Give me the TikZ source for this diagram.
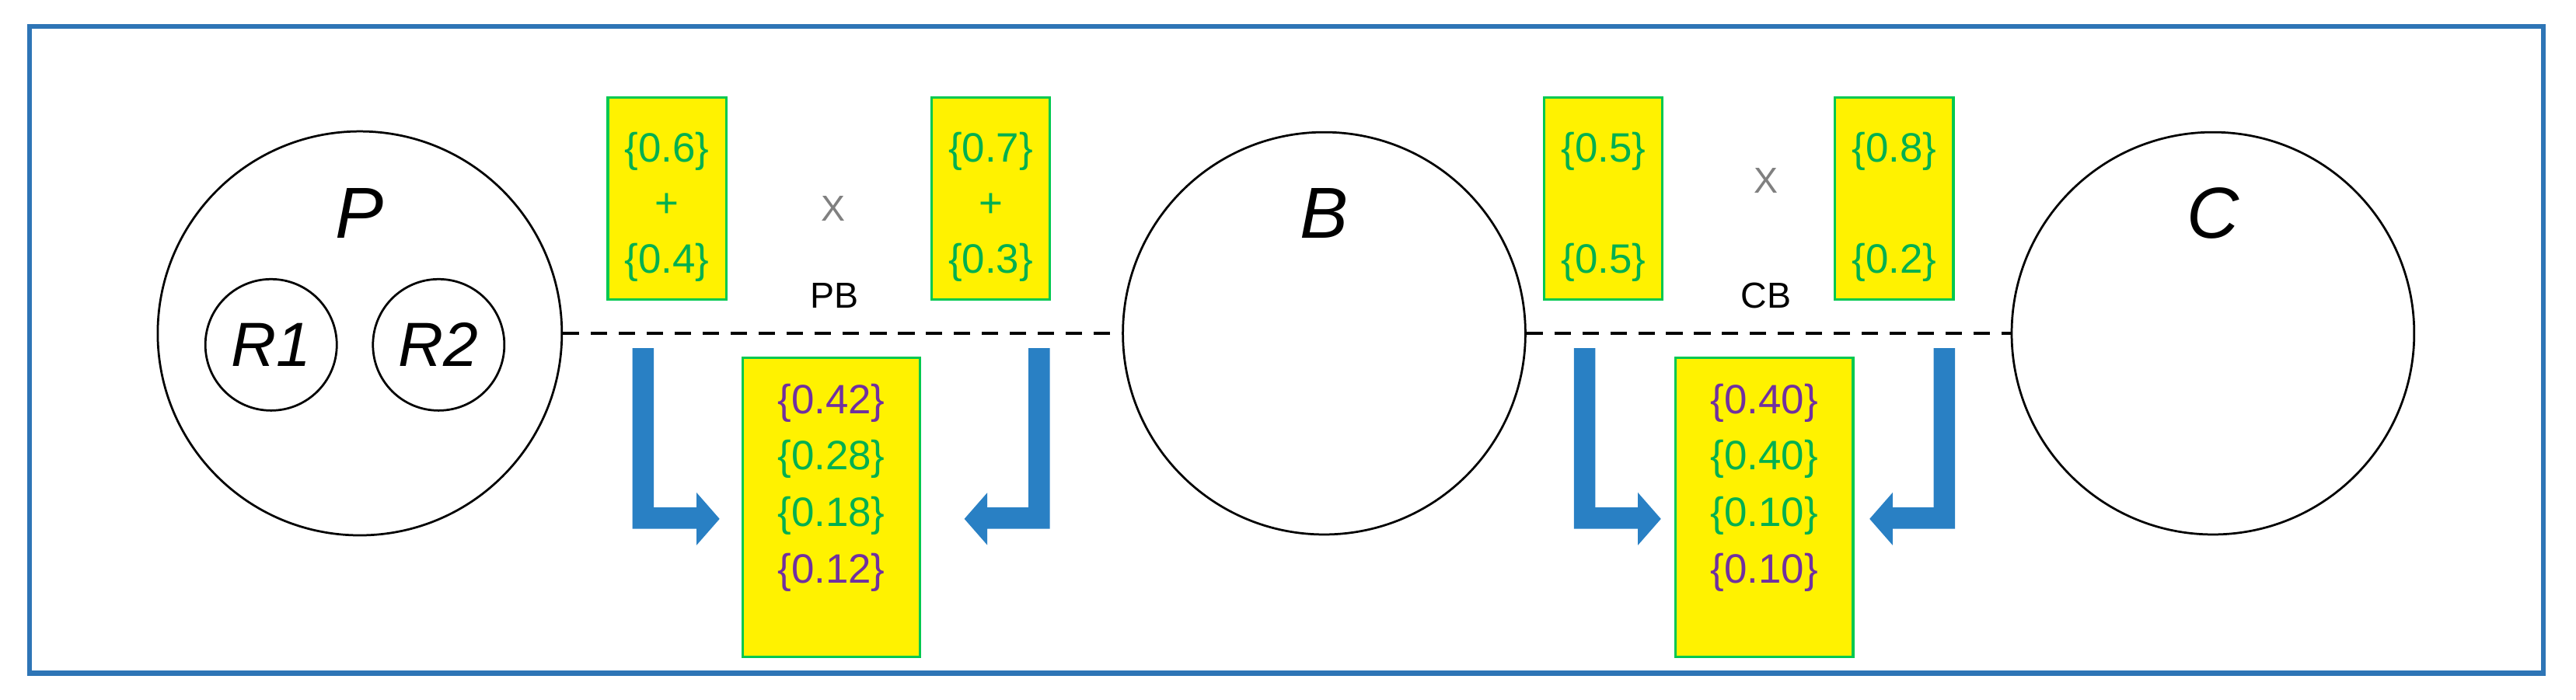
\documentclass[tikz,border=0pt]{standalone}
\usepackage{fontspec}
\setmainfont{Liberation Sans}
\begin{document}
\begin{tikzpicture}[x=1pt,y=-1pt,
  frame/.style={draw={rgb,255:red,46;green,117;blue,182},line width=3pt},
  ent/.style={draw,circle,line width=1.3pt,minimum size=#1,inner sep=0pt},
  pbox/.style={draw={rgb,255:red,0;green,200;blue,80},fill=yellow,line width=1.5pt,minimum width=72pt,minimum height=123pt,inner sep=0pt},
  rbox/.style={pbox,minimum width=108pt,minimum height=182pt},
  ptxt/.style={align=center,inner sep=0pt,font=\fontsize{25}{34}\selectfont,text={rgb,255:red,0;green,176;blue,80}},
  rtxt/.style={ptxt,font=\fontsize{25}{34.5}\selectfont},
  lab/.style={font=\fontsize{44}{44}\selectfont\itshape},
  sm/.style={font=\fontsize{22}{22}\selectfont},
  dline/.style={line width=2.2pt,dash pattern=on 10pt off 7pt},
  barrow/.style={fill={rgb,255:red,41;green,128;blue,196}}]
\useasboundingbox (0,0) rectangle (1568,426);
\definecolor{pur}{RGB}{112,48,160}
\draw[frame] (18,16) rectangle (1548,410);
% entities
\node[ent=246pt] (P) at (219,203) {};
\node[lab] (Pl) at (219,130) {P};
\node[ent=80pt] (R1) at (165,210) {};
\node[lab,font=\fontsize{38}{38}\selectfont\itshape] at (R1) {R1};
\node[ent=80pt] (R2) at (267,210) {};
\node[lab,font=\fontsize{38}{38}\selectfont\itshape] at (R2) {R2};
\node[ent=245pt] (B) at (806,203) {};
\node[lab] at (806,130) {B};
\node[ent=245pt] (C) at (1347,203) {};
\node[lab] at (1347,130) {C};
\draw[dline] (P.east) -- (B.west);
\draw[dline] (B.east) -- (C.west);
% PB
\node[pbox] (b1) at (406,121) {};
\node[ptxt] at (406,126) {\{0.6\}\\+\\\{0.4\}};
\node[pbox] (b2) at (603,121) {};
\node[ptxt] at (603,126) {\{0.7\}\\+\\\{0.3\}};
\node[sm,text=gray] (x1) at (507,127) {X};
\node[sm] (pb) at (508,180) {PB};
\node[rbox] (r1) at (506,309) {};
\node[rtxt] at (506,297) {\textcolor{pur}{\{0.42\}}\\\{0.28\}\\\{0.18\}\\\textcolor{pur}{\{0.12\}}};
% CB
\node[pbox] (b3) at (976,121) {};
\node[ptxt] at (976,126) {\{0.5\}\\\\\{0.5\}};
\node[pbox] (b4) at (1153,121) {};
\node[ptxt] at (1153,126) {\{0.8\}\\\\\{0.2\}};
\node[sm,text=gray] (x2) at (1075,110) {X};
\node[sm] (cb) at (1075,180) {CB};
\node[rbox] (r2) at (1074,309) {};
\node[rtxt] at (1074,297) {\textcolor{pur}{\{0.40\}}\\\{0.40\}\\\{0.10\}\\\textcolor{pur}{\{0.10\}}};
% arrows
\fill[barrow] (385,212) -- (398,212) -- (398,309) -- (424,309) -- (424,300) -- (438,316) -- (424,332) -- (424,322) -- (385,322) -- cycle;
\fill[barrow] (639,212) -- (626,212) -- (626,309) -- (601,309) -- (601,300) -- (587,316) -- (601,332) -- (601,322) -- (639,322) -- cycle;
\fill[barrow] (958,212) -- (971,212) -- (971,309) -- (997,309) -- (997,300) -- (1011,316) -- (997,332) -- (997,322) -- (958,322) -- cycle;
\fill[barrow] (1190,212) -- (1177,212) -- (1177,309) -- (1152,309) -- (1152,300) -- (1138,316) -- (1152,332) -- (1152,322) -- (1190,322) -- cycle;
\end{tikzpicture}
\end{document}
